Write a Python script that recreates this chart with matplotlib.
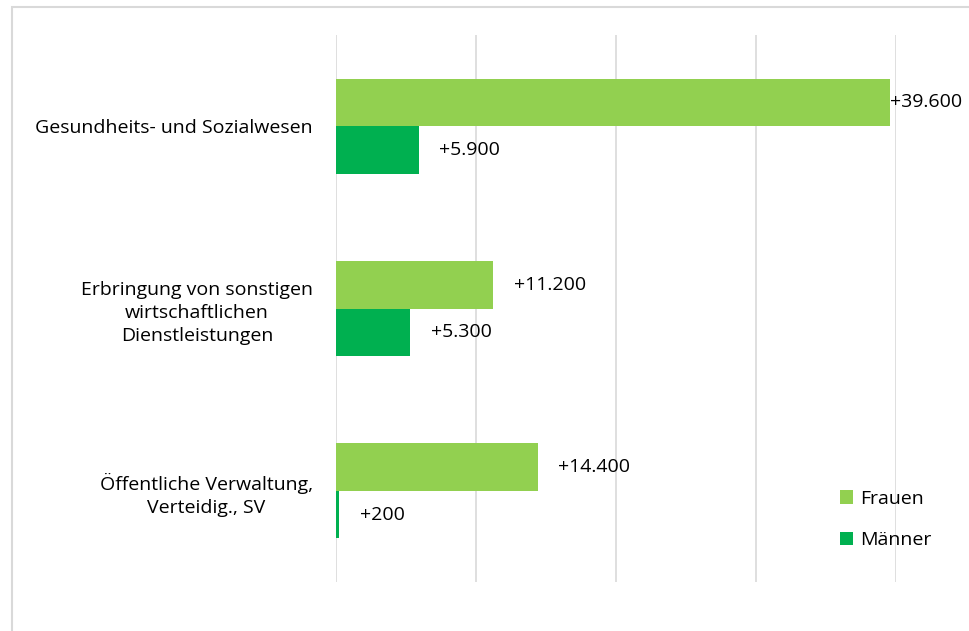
import numpy as np
import matplotlib.pyplot as plt
from matplotlib.patches import Rectangle

plt.rcParams['font.family'] = ['Open Sans', 'DejaVu Sans']

categories = ["Gesundheits- und Sozialwesen",
              "Erbringung von sonstigen\nwirtschaftlichen\nDienstleistungen",
              "Öffentliche Verwaltung,\nVerteidig., SV"]
frauen = [39600, 11200, 14400]
maenner = [5900, 5300, 200]
labels_frauen = ["+39.600", "+11.200", "+14.400"]
labels_maenner = ["+5.900", "+5.300", "+200"]

fs = 14

fig = plt.figure(figsize=(9.7, 6.31), dpi=100)
ax = fig.add_axes([336/970, 1-582/631, 560/970, 547/631])

y = np.arange(len(categories))
h = 0.26
b1 = ax.barh(y - h/2, frauen, height=h, color='#92D050', label='Frauen')
b2 = ax.barh(y + h/2, maenner, height=h, color='#00B050', label='Männer')

for bars, labs in [(b1, labels_frauen), (b2, labels_maenner)]:
    for bar, lab in zip(bars, labs):
        w = bar.get_width()
        off = 0 if w > 30000 else 15
        ax.annotate(lab, (w, bar.get_y() + bar.get_height()/2),
                    xytext=(off, 0), textcoords='offset points',
                    va='center', ha='left', fontsize=fs, color='#000000')

ax.set_xlim(0, 40000)
ax.set_ylim(len(categories) - 0.5, -0.5)
ax.set_xticks(np.arange(0, 40001, 10000))
ax.set_xticklabels([])
ax.tick_params(axis='x', length=0)
ax.tick_params(axis='y', length=0, pad=16.5, labelsize=fs)
ax.set_yticks(y)
ax.set_yticklabels(categories, multialignment='center', linespacing=1.35)
ax.grid(axis='x', color='#d9d9d9', linewidth=1.2)
ax.set_axisbelow(True)
for s in ax.spines.values():
    s.set_visible(False)

leg = ax.legend(loc='upper left', bbox_to_anchor=(830/970, 1-480/631),
                bbox_transform=fig.transFigure, frameon=False, fontsize=fs,
                handlelength=0.68, handleheight=0.68, handletextpad=0.35,
                labelspacing=1.2, borderpad=0)

fig.patches.append(Rectangle((12/970, -0.1), 1.2, 1.1 - 7/631,
                             transform=fig.transFigure, fill=False,
                             edgecolor='#d9d9d9', linewidth=1.5))

fig.savefig('out.png', dpi=100)
